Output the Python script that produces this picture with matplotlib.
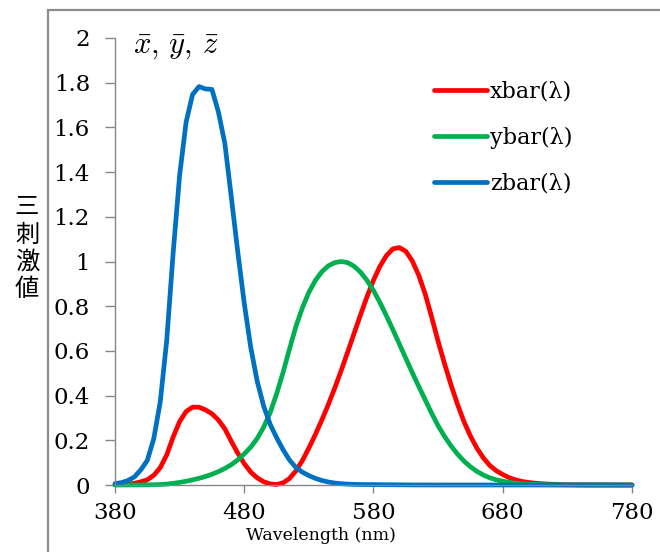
import matplotlib
matplotlib.use('Agg')
import matplotlib.pyplot as plt
from matplotlib.patches import Rectangle

# colour matching functions, 5 nm steps
wavelength = list(range(380, 785, 5))
xbar = [0.0014, 0.0022, 0.0042, 0.0077, 0.0143, 0.0232, 0.0435, 0.0776, 0.1344, 0.2148,
        0.2839, 0.3285, 0.3483, 0.3481, 0.3362, 0.3187, 0.2908, 0.2511, 0.1954, 0.1421,
        0.0956, 0.0580, 0.0320, 0.0147, 0.0049, 0.0024, 0.0093, 0.0291, 0.0633, 0.1096,
        0.1655, 0.2257, 0.2904, 0.3597, 0.4334, 0.5121, 0.5945, 0.6784, 0.7621, 0.8425,
        0.9163, 0.9786, 1.0263, 1.0567, 1.0622, 1.0456, 1.0026, 0.9384, 0.8544, 0.7514,
        0.6424, 0.5419, 0.4479, 0.3608, 0.2835, 0.2187, 0.1649, 0.1212, 0.0874, 0.0636,
        0.0468, 0.0329, 0.0227, 0.0158, 0.0114, 0.0081, 0.0058, 0.0041, 0.0029, 0.0020,
        0.0014, 0.0010, 0.0007, 0.0005, 0.0003, 0.0002, 0.0002, 0.0001, 0.0001, 0.0001,
        0.0000]
ybar = [0.0000, 0.0001, 0.0001, 0.0002, 0.0004, 0.0006, 0.0012, 0.0022, 0.0040, 0.0073,
        0.0116, 0.0168, 0.0230, 0.0298, 0.0380, 0.0480, 0.0600, 0.0739, 0.0910, 0.1126,
        0.1390, 0.1693, 0.2080, 0.2586, 0.3230, 0.4073, 0.5030, 0.6082, 0.7100, 0.7932,
        0.8620, 0.9149, 0.9540, 0.9803, 0.9950, 1.0000, 0.9950, 0.9786, 0.9520, 0.9154,
        0.8700, 0.8163, 0.7570, 0.6949, 0.6310, 0.5668, 0.5030, 0.4412, 0.3810, 0.3210,
        0.2650, 0.2170, 0.1750, 0.1382, 0.1070, 0.0816, 0.0610, 0.0446, 0.0320, 0.0232,
        0.0170, 0.0119, 0.0082, 0.0057, 0.0041, 0.0029, 0.0021, 0.0015, 0.0010, 0.0007,
        0.0005, 0.0004, 0.0002, 0.0002, 0.0001, 0.0001, 0.0001, 0.0000, 0.0000, 0.0000,
        0.0000]
zbar = [0.0065, 0.0106, 0.0201, 0.0362, 0.0679, 0.1102, 0.2074, 0.3713, 0.6456, 1.0391,
        1.3856, 1.6230, 1.7471, 1.7826, 1.7721, 1.7700, 1.6692, 1.5281, 1.2876, 1.0419,
        0.8130, 0.6162, 0.4652, 0.3533, 0.2720, 0.2123, 0.1582, 0.1117, 0.0783, 0.0573,
        0.0422, 0.0298, 0.0203, 0.0134, 0.0088, 0.0058, 0.0039, 0.0028, 0.0021, 0.0018,
        0.0017, 0.0014, 0.0011, 0.0010, 0.0008, 0.0006, 0.0003, 0.0002, 0.0002, 0.0001,
        0.0001, 0.0000, 0.0000, 0.0000, 0.0000, 0.0000, 0.0000, 0.0000, 0.0000, 0.0000,
        0.0000, 0.0000, 0.0000, 0.0000, 0.0000, 0.0000, 0.0000, 0.0000, 0.0000, 0.0000,
        0.0000, 0.0000, 0.0000, 0.0000, 0.0000, 0.0000, 0.0000, 0.0000, 0.0000, 0.0000,
        0.0000]

series_labels = ['xbar(λ)', 'ybar(λ)', 'zbar(λ)']
series_colors = ['#FF0000', '#00B050', '#0070C0']
xticks = [380, 480, 580, 680, 780]
yticks = [0, 0.2, 0.4, 0.6, 0.8, 1, 1.2, 1.4, 1.6, 1.8, 2]
ytick_labels = ['0', '0.2', '0.4', '0.6', '0.8', '1', '1.2', '1.4', '1.6', '1.8', '2']

plt.rcParams['font.family'] = ['DejaVu Serif']
plt.rcParams['mathtext.fontset'] = 'cm'

fig = plt.figure(figsize=(6.6, 5.52), dpi=100)
ax = fig.add_axes([115 / 660, 1 - 485 / 552, 517 / 660, 447 / 552])

for vals, lab, col in zip([xbar, ybar, zbar], series_labels, series_colors):
    ax.plot(wavelength, vals, color=col, lw=3.4, label=lab,
            solid_capstyle='round', solid_joinstyle='round', clip_on=False)

ax.set_xlim(380, 780)
ax.set_ylim(0, 2)
ax.set_xticks(xticks)
ax.set_yticks(yticks)
ax.set_yticklabels(ytick_labels)
for s in ['top', 'right']:
    ax.spines[s].set_visible(False)
for s in ['left', 'bottom']:
    ax.spines[s].set_color('#868686')
    ax.spines[s].set_linewidth(1.0)
ax.tick_params(axis='y', direction='out', length=7, width=1, color='#868686',
               labelsize=16.5, pad=11)
ax.tick_params(axis='x', direction='out', length=6, width=1, color='#868686',
               labelsize=16.5, pad=6)

leg = ax.legend(loc='upper left', bbox_to_anchor=(0.6, 0.925), frameon=False,
                fontsize=16, handlelength=2.4, handletextpad=0.1,
                labelspacing=1.08, borderaxespad=0)

ax.text(0.035, 1.015, r'$\bar{x},\, \bar{y},\, \bar{z}$', transform=ax.transAxes,
        fontsize=22, va='top', ha='left')

fig.text(321 / 660, 1 - 536 / 552, 'Wavelength (nm)', fontsize=12.5,
         ha='center', va='center')
fig.text(27 / 660, 1 - 248 / 552, '三\n刺\n激\n値', fontsize=17.5,
         family=['Noto Sans CJK JP', 'DejaVu Sans'], ha='center', va='center',
         linespacing=1.05)

# chart area border (cut off at right and bottom)
fig.add_artist(Rectangle((48 / 660, -0.2), 1.5, 1.2 - 10 / 552,
                         transform=fig.transFigure, fill=False,
                         ec='#8c8c8c', lw=1.6))

fig.savefig('out.png', dpi=100)
